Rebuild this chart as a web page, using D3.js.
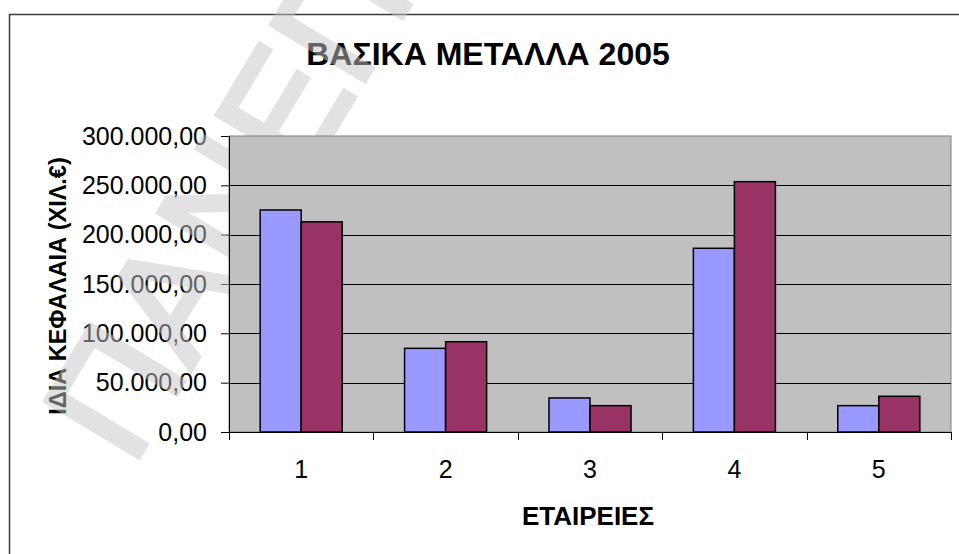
<!DOCTYPE html>
<html lang="el">
	<head>
		<meta charset="utf-8">
		<title>ΒΑΣΙΚΑ ΜΕΤΑΛΛΑ 2005</title>
		<script src="https://d3js.org/d3.v7.min.js" charset="utf-8"></script>
		<style type="text/css">
			body { margin: 0; background: #fff; }
			svg text { font-family: "Liberation Sans", Arial, sans-serif; }
		</style>
	</head>
	<body>
		<script type="text/javascript">

			// Data
			var companies = ["1", "2", "3", "4", "5"];
			var seriesNames = ["a", "b"];
			var seriesA = [225000, 84800, 34500, 186200, 26700];
			var seriesB = [213000, 91500, 26700, 253700, 36200];
			var yTicks = [0, 50000, 100000, 150000, 200000, 250000, 300000];

			var title = "ΒΑΣΙΚΑ ΜΕΤΑΛΛΑ 2005";
			var yTitle = "ΙΔΙΑ ΚΕΦΑΛΑΙΑ (ΧΙΛ.€)";
			var xTitle = "ΕΤΑΙΡΕΙΕΣ";
			var watermark = "ΠΑΝΕΠ";

			var colors = ["#9999FF", "#993366"];

			// Set dimensions
			var w = 959, h = 554;
			var plot = { left: 229, right: 951, top: 136, bottom: 432 };

			// greek number format 300.000,00
			var grLocale = d3.formatLocale({ decimal: ",", thousands: ".", grouping: [3], currency: ["", "€"] });
			var fmt = grLocale.format(",.2f");

			var rows = companies.map(function(c, i) {
				return { company: c, values: [seriesA[i], seriesB[i]] };
			});

			//Set up scales
			var xScale = d3.scaleBand()
				.domain(companies)
				.range([plot.left, plot.right])
				.padding(0);
			var xInner = d3.scaleBand()
				.domain(seriesNames)
				.range([0, xScale.bandwidth()])
				.paddingInner(0)
				.paddingOuter(0.76);
			var yScale = d3.scaleLinear()
				.domain([0, 300000])
				.range([plot.bottom, plot.top]);

			//Create SVG element
			var svg = d3.select("body")
				.append("svg")
				.attr("width", w)
				.attr("height", h);

			// outer chart frame (right and bottom fall outside the picture)
			svg.append("rect")
				.attr("x", 9.5).attr("y", 14.5)
				.attr("width", 1000).attr("height", 600)
				.attr("fill", "#fff")
				.attr("stroke", "#3a3a3a")
				.attr("stroke-width", 1.5);

			svg.append("text")
				.attr("x", 488)
				.attr("y", 65)
				.attr("text-anchor", "middle")
				.style("font-size", "32px")
				.style("font-weight", "bold")
				.text(title);

			// y axis (labels + ticks)
			var yAxis = d3.axisLeft(yScale)
				.tickValues(yTicks)
				.tickFormat(fmt)
				.tickSize(8)
				.tickPadding(14);
			var yg = svg.append("g")
				.attr("transform", "translate(" + plot.left + ",0)")
				.call(yAxis);
			yg.select(".domain").remove();
			yg.selectAll("line").attr("stroke", "#000");
			yg.selectAll("text")
				.attr("fill", "#000")
				.style("font-size", "25px")
				.style("font-family", "'Liberation Sans', Arial, sans-serif");

			// x axis
			var xAxis = d3.axisBottom(xScale)
				.tickSize(0)
				.tickPadding(28);
			var xg = svg.append("g")
				.attr("transform", "translate(0," + plot.bottom + ")")
				.call(xAxis);
			xg.select(".domain").remove();
			xg.selectAll("text")
				.attr("fill", "#000")
				.style("font-size", "25px")
				.style("font-family", "'Liberation Sans', Arial, sans-serif");

			svg.append("text")
				.attr("x", (plot.left + plot.right) / 2 - 2)
				.attr("y", 525)
				.attr("text-anchor", "middle")
				.style("font-size", "26px")
				.style("font-weight", "bold")
				.text(xTitle);

			svg.append("text")
				.attr("transform", "translate(66," + ((plot.top + plot.bottom) / 2 + 2) + ") rotate(-90)")
				.attr("text-anchor", "middle")
				.style("font-size", "23.5px")
				.style("font-weight", "bold")
				.text(yTitle);

			// faint watermark, sits over the labels but under the plot area
			svg.append("g")
				.attr("opacity", 0.5)
				.append("text")
				.attr("transform", "translate(132,468) rotate(-59)")
				.style("font-size", "158px")
				.attr("fill", "#c6c6c6")
				.attr("stroke", "#c6c6c6")
				.attr("stroke-width", 5)
				.attr("stroke-linejoin", "miter")
				.text(watermark);

			// plot area
			svg.append("rect")
				.attr("x", plot.left).attr("y", plot.top)
				.attr("width", plot.right - plot.left)
				.attr("height", plot.bottom - plot.top)
				.attr("fill", "#C0C0C0")
				.attr("stroke", "#808080")
				.attr("stroke-width", 1);

			// gridlines
			svg.append("g")
				.selectAll("line")
				.data(yTicks.filter(function(d) { return d > 0 && d < 300000; }))
				.enter()
				.append("line")
				.attr("x1", plot.left).attr("x2", plot.right)
				.attr("y1", function(d) { return Math.round(yScale(d)) + 0.5; })
				.attr("y2", function(d) { return Math.round(yScale(d)) + 0.5; })
				.attr("stroke", "#000")
				.attr("stroke-width", 1);

			// bars
			var groups = svg.append("g")
				.selectAll("g")
				.data(rows)
				.enter()
				.append("g")
				.attr("transform", function(d) { return "translate(" + xScale(d.company) + ",0)"; });

			groups.selectAll("rect")
				.data(function(d) { return d.values; })
				.enter()
				.append("rect")
				.attr("x", function(d, i) { return xInner(seriesNames[i]); })
				.attr("y", function(d) { return yScale(d); })
				.attr("width", xInner.bandwidth())
				.attr("height", function(d) { return plot.bottom - yScale(d); })
				.attr("fill", function(d, i) { return colors[i]; })
				.attr("stroke", "#000")
				.attr("stroke-width", 1.5);

			// axis lines and category ticks on top
			svg.append("line")
				.attr("x1", plot.left + 0.5).attr("x2", plot.left + 0.5)
				.attr("y1", plot.top).attr("y2", plot.bottom + 8)
				.attr("stroke", "#000");
			svg.append("line")
				.attr("x1", plot.left).attr("x2", plot.right)
				.attr("y1", plot.bottom + 0.5).attr("y2", plot.bottom + 0.5)
				.attr("stroke", "#000");
			var edges = companies.map(function(c) { return xScale(c); }).concat([plot.right]);
			svg.append("g")
				.selectAll("line")
				.data(edges)
				.enter()
				.append("line")
				.attr("x1", function(d) { return Math.round(d) + 0.5; })
				.attr("x2", function(d) { return Math.round(d) + 0.5; })
				.attr("y1", plot.bottom)
				.attr("y2", plot.bottom + 8)
				.attr("stroke", "#000");

		</script>
	</body>
</html>
